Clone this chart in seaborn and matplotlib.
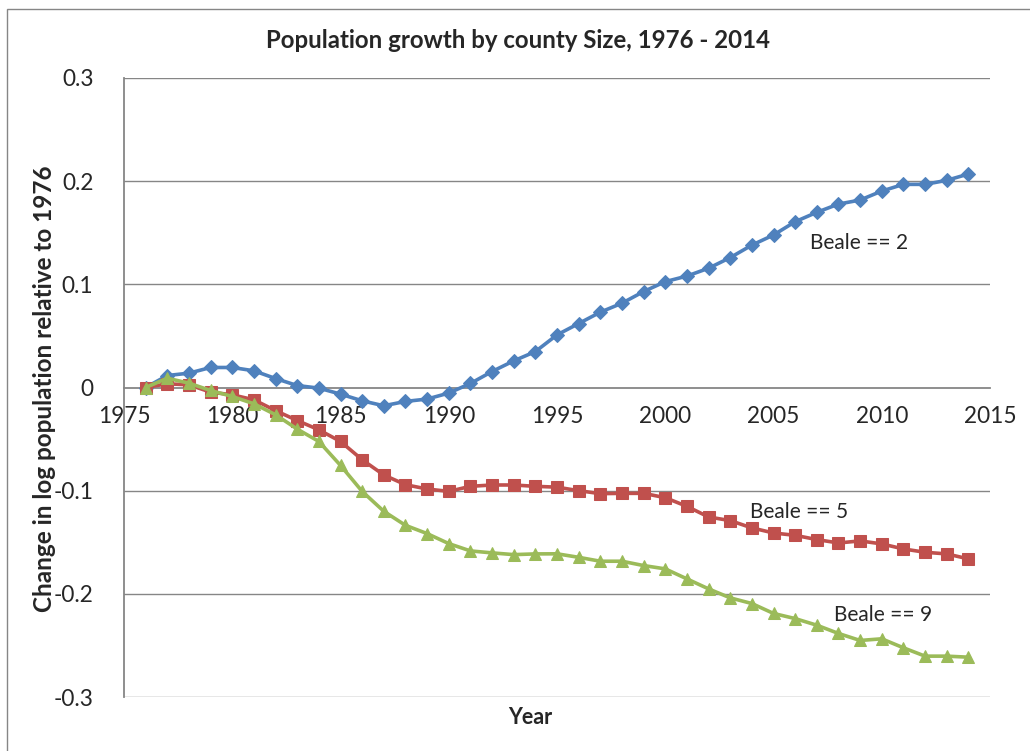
import numpy as np
import pandas as pd
import matplotlib
matplotlib.use("Agg")
import matplotlib.pyplot as plt
from matplotlib.patches import Rectangle
import seaborn as sns

# 数据
years = list(range(1976, 2015))

beale2 = [0.0, 0.0116, 0.0139, 0.0194, 0.0194, 0.0162, 0.0087, 0.0019, -0.0006, -0.0064,
          -0.0129, -0.0177, -0.0135, -0.0112, -0.0054, 0.0039, 0.0155, 0.0258, 0.0348, 0.0510,
          0.0620, 0.0730, 0.0817, 0.0930, 0.1026, 0.1080, 0.1156, 0.1259, 0.1380, 0.1478,
          0.1607, 0.1698, 0.1778, 0.1817, 0.1904, 0.1969, 0.1969, 0.2008, 0.2069]

beale5 = [0.0, 0.0036, 0.0026, -0.0045, -0.0071, -0.0119, -0.0224, -0.0320, -0.0410, -0.0523,
          -0.0700, -0.0848, -0.0942, -0.0984, -0.1007, -0.0958, -0.0945, -0.0945, -0.0958, -0.0966,
          -0.1000, -0.1029, -0.1026, -0.1026, -0.1068, -0.1152, -0.1255, -0.1290, -0.1361, -0.1410,
          -0.1433, -0.1474, -0.1507, -0.1487, -0.1516, -0.1565, -0.1597, -0.1613, -0.1661]

beale9 = [0.0, 0.0090, 0.0042, -0.0029, -0.0087, -0.0158, -0.0264, -0.0403, -0.0523, -0.0755,
          -0.1007, -0.1200, -0.1336, -0.1416, -0.1513, -0.1584, -0.1603, -0.1620, -0.1613, -0.1612,
          -0.1646, -0.1684, -0.1684, -0.1726, -0.1758, -0.1855, -0.1952, -0.2039, -0.2094, -0.2190,
          -0.2240, -0.2304, -0.2384, -0.2452, -0.2436, -0.2523, -0.2604, -0.2604, -0.2614]

series_names = ["Beale == 2", "Beale == 5", "Beale == 9"]
x_ticks = [1975, 1980, 1985, 1990, 1995, 2000, 2005, 2010, 2015]
y_ticks = [-0.3, -0.2, -0.1, 0, 0.1, 0.2, 0.3]
y_tick_labels = ["-0.3", "-0.2", "-0.1", "0", "0.1", "0.2", "0.3"]

sns.set_style("white")
plt.rcParams['font.family'] = ['Lato', 'DejaVu Sans']

colors = ["#4F81BD", "#C0504D", "#9BBB59"]
markers = ["D", "s", "^"]
msizes = [7, 8, 9]
grid_c = "#868686"

fig = plt.figure(figsize=(10.3, 7.51), dpi=100)
ax = fig.add_axes([124 / 1030, 54 / 751, 866 / 1030, 619 / 751])

for vals, c, m, ms in zip([beale2, beale5, beale9], colors, markers, msizes):
    df = pd.DataFrame({"Year": years, "val": vals})
    sns.lineplot(data=df, x="Year", y="val", color=c, marker=m, markersize=ms,
                 markeredgecolor=c, linewidth=2.6, ax=ax)

ax.set_xlim(1975, 2015)
ax.set_ylim(-0.3, 0.3)
ax.set_xticks(x_ticks)
ax.set_yticks(y_ticks)
ax.set_yticklabels(y_tick_labels)

# 网格线
for yv in y_ticks:
    if yv != 0:
        ax.axhline(yv, color=grid_c, lw=1, zorder=0)

# 坐标轴
for s in ["top", "right"]:
    ax.spines[s].set_visible(False)
ax.spines["bottom"].set_position(("data", 0))
ax.spines["bottom"].set_color(grid_c)
ax.spines["bottom"].set_linewidth(1.3)
ax.spines["bottom"].set_zorder(1)
ax.spines["left"].set_color(grid_c)
ax.spines["left"].set_linewidth(1.3)
ax.tick_params(axis="x", length=0, pad=13, labelsize=16.3)
ax.tick_params(axis="y", length=0, pad=22, labelsize=16.3)

ax.set_xlabel("")
ax.set_ylabel("")
fig.text(530 / 1030, 1 - 718 / 751, "Year", ha="center", va="center",
         fontsize=15.5, fontweight="bold")
fig.text(45 / 1030, 1 - 389 / 751, "Change in log population relative to 1976",
         rotation=90, ha="center", va="center", fontsize=17.5, fontweight="bold")
fig.text(518 / 1030, 1 - 40 / 751, "Population growth by county Size, 1976 - 2014",
         ha="center", va="center", fontsize=17.3, fontweight="bold")

# 标签
ax.text(2006.7, 0.14, series_names[0], fontsize=15, va="center")
ax.text(2003.9, -0.121, series_names[1], fontsize=15, va="center")
ax.text(2007.8, -0.221, series_names[2], fontsize=15, va="center")

# 图表边框
fig.patches.append(Rectangle((7 / 1030, -0.1), 1.1, 1.1 - 9 / 751, transform=fig.transFigure,
                             fill=False, edgecolor=grid_c, lw=1))

fig.savefig("out.png", dpi=100)
